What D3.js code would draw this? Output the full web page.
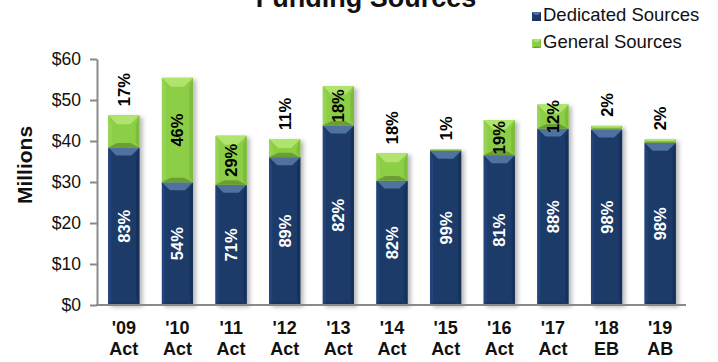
<!DOCTYPE html>
<html>
<head>
<meta charset="utf-8">
<script src="https://cdn.jsdelivr.net/npm/d3@7"></script>
<style>
  html, body { margin: 0; padding: 0; background: #ffffff; }
  svg { display: block; font-family: "Liberation Sans", Arial, sans-serif; }
</style>
</head>
<body>
<svg id="chart" width="718" height="362"></svg>
<script>
// Funding by fiscal year (millions of dollars)
const categories   = ["'09", "'10", "'11", "'12", "'13", "'14", "'15", "'16", "'17", "'18", "'19"];
const budgetTypes  = ["Act", "Act", "Act", "Act", "Act", "Act", "Act", "Act", "Act", "EB", "AB"];
const totalFunding = [46.3, 55.4, 41.3, 40.5, 53.4, 37.0, 38.0, 45.1, 48.9, 43.7, 40.4];
const dedicatedPct = [83, 54, 71, 89, 82, 82, 99, 81, 88, 98, 98];
const generalPct   = [17, 46, 29, 11, 18, 18, 1, 19, 12, 2, 2];
const yTicks       = [0, 10, 20, 30, 40, 50, 60];
const seriesNames  = ["Dedicated Sources", "General Sources"];

// Years whose general-sources share is printed above the bar instead of inside it
const generalLabelAbove = new Set(["'09", "'12", "'14", "'15", "'18", "'19"]);

const rows = categories.map((c, i) => {
  const dedicated = totalFunding[i] * dedicatedPct[i] / 100;
  return {
    key: c,
    type: budgetTypes[i],
    dedicated,
    general: totalFunding[i] - dedicated,
    dPct: dedicatedPct[i],
    gPct: generalPct[i]
  };
});

const svg = d3.select("#chart");
const defs = svg.append("defs");
const shadow = defs.append("filter").attr("id", "barShadow")
  .attr("x", "-30%").attr("y", "-10%").attr("width", "170%").attr("height", "130%");
shadow.append("feDropShadow")
  .attr("dx", 3).attr("dy", 2).attr("stdDeviation", 2)
  .attr("flood-color", "#000").attr("flood-opacity", 0.28);

const x = d3.scaleBand()
  .domain(categories)
  .range([97, 687])
  .paddingInner(0.42)
  .paddingOuter(0.21);

const y = d3.scaleLinear().domain([0, 60]).range([305, 59]);

const palettes = {
  dedicated: { body: "#1e3a68", top: "#50729f", left: "#22427a", right: "#18305a", bottom: "#1a3462" },
  general:   { body: "#8cce44", top: "#b0e46e", left: "#97d452", right: "#7dbd3a", bottom: "#6c9e36" }
};

// Draws a bevelled block: flat face plus four sloped edges
function bevelBlock(g, bx, by, bw, bh, pal, maxBevel) {
  if (bh <= 0) return;
  const b = Math.min(maxBevel, bh / 2, bw / 2);
  g.append("rect").attr("x", bx).attr("y", by).attr("width", bw).attr("height", bh).attr("fill", pal.body);
  const poly = (pts, fill) => g.append("polygon")
    .attr("points", pts.map(p => p.join(",")).join(" "))
    .attr("fill", fill);
  poly([[bx, by], [bx + bw, by], [bx + bw - b, by + b], [bx + b, by + b]], pal.top);
  poly([[bx, by + bh], [bx + bw, by + bh], [bx + bw - b, by + bh - b * 0.5], [bx + b, by + bh - b * 0.5]], pal.bottom);
  poly([[bx, by], [bx + b * 0.4, by + b], [bx + b * 0.4, by + bh - b * 0.5], [bx, by + bh]], pal.left);
  poly([[bx + bw, by], [bx + bw - b * 0.4, by + b], [bx + bw - b * 0.4, by + bh - b * 0.5], [bx + bw, by + bh]], pal.right);
}

// Bars
const barGroups = svg.append("g").selectAll("g.bar")
  .data(rows).join("g").attr("class", "bar")
  .attr("filter", "url(#barShadow)");

barGroups.each(function (d) {
  const g = d3.select(this);
  const bx = x(d.key), bw = x.bandwidth();
  const yDed = y(d.dedicated);
  const yTop = y(d.dedicated + d.general);
  bevelBlock(g, bx, yDed, bw, y(0) - yDed, palettes.dedicated, 8);
  bevelBlock(g, bx, yTop, bw, yDed - yTop, palettes.general, 9);
});

// Axes
const axisColor = "#8a8a8a";
const yAxis = svg.append("g")
  .attr("transform", "translate(97,0)")
  .call(d3.axisLeft(y).tickValues(yTicks).tickFormat(v => "$" + v).tickSize(7).tickPadding(9).tickSizeOuter(0));
yAxis.select(".domain").attr("stroke", axisColor).attr("stroke-width", 2);
yAxis.selectAll(".tick line").attr("stroke", axisColor).attr("stroke-width", 2);
yAxis.selectAll(".tick text")
  .attr("font-size", 17.5).attr("fill", "#111")
  .attr("font-family", "Liberation Sans, Arial, sans-serif");

svg.append("line")
  .attr("x1", 96).attr("x2", 686)
  .attr("y1", y(0)).attr("y2", y(0))
  .attr("stroke", axisColor).attr("stroke-width", 2);

// Category labels (two lines)
const xLabels = svg.append("g").selectAll("text")
  .data(rows).join("text")
  .attr("text-anchor", "middle")
  .attr("font-weight", "bold").attr("font-size", 18).attr("fill", "#111");
xLabels.append("tspan").attr("x", d => x(d.key) + x.bandwidth() / 2).attr("y", 334).text(d => d.key);
xLabels.append("tspan").attr("x", d => x(d.key) + x.bandwidth() / 2).attr("y", 355).text(d => d.type);

// Percentage labels on dedicated segments
svg.append("g").selectAll("text")
  .data(rows).join("text")
  .attr("transform", d => {
    const cx = x(d.key) + x.bandwidth() / 2;
    const cy = (y(d.dedicated) + y(0)) / 2;
    return `translate(${cx},${cy}) rotate(-90)`;
  })
  .attr("text-anchor", "middle").attr("dominant-baseline", "central")
  .attr("font-weight", "bold").attr("font-size", 16.5).attr("fill", "#ffffff")
  .text(d => d.dPct + "%");

// Percentage labels on general segments
svg.append("g").selectAll("text")
  .data(rows).join("text")
  .attr("transform", d => {
    const cx = x(d.key) + x.bandwidth() / 2;
    const top = y(d.dedicated + d.general);
    if (generalLabelAbove.has(d.key)) return `translate(${cx},${top - 9}) rotate(-90)`;
    return `translate(${cx},${(top + y(d.dedicated)) / 2}) rotate(-90)`;
  })
  .attr("text-anchor", d => generalLabelAbove.has(d.key) ? "start" : "middle")
  .attr("dominant-baseline", "central")
  .attr("font-weight", "bold").attr("font-size", 16.5).attr("fill", "#000")
  .text(d => d.gPct + "%");

// Y axis title
svg.append("text")
  .attr("transform", "translate(24,165) rotate(-90)")
  .attr("text-anchor", "middle").attr("dominant-baseline", "central")
  .attr("font-weight", "bold").attr("font-size", 21).attr("fill", "#111")
  .text("Millions");

// Chart title
svg.append("text")
  .attr("x", 366).attr("y", 7)
  .attr("text-anchor", "middle")
  .attr("font-weight", "bold").attr("font-size", 27).attr("fill", "#111")
  .text("Funding Sources");

// Legend
const legend = svg.append("g").selectAll("g")
  .data(seriesNames).join("g")
  .attr("transform", (d, i) => `translate(532,${12 + i * 27})`);
legend.each(function (d, i) {
  bevelBlock(d3.select(this), 0, 0, 9, 9, i === 0 ? palettes.dedicated : palettes.general, 3);
});
legend.append("text")
  .attr("x", 11).attr("y", 9)
  .attr("font-size", 18.5).attr("fill", "#111")
  .text(d => d);
</script>
</body>
</html>
